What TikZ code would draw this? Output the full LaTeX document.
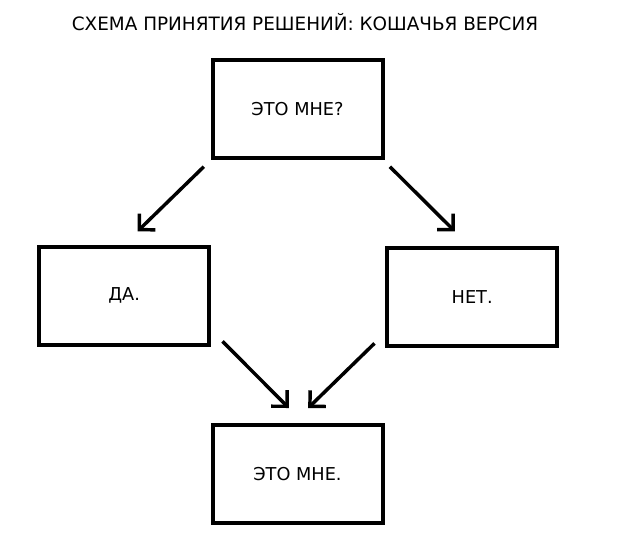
\documentclass[tikz,border=0pt]{standalone}
\usepackage{fontspec}
\setmainfont{DejaVu Sans}
\usetikzlibrary{arrows.meta}
\tikzstyle{box} = [rectangle, 
minimum width=127.5pt, 
minimum height=73.5pt, 
text centered, 
line width=3pt, 
draw=black, 
fill=white, 
font=\fontsize{13.3}{15}\selectfont]
\tikzstyle{heading} = [font=\fontsize{13.8}{16}\selectfont]
\tikzstyle{arrow} = [line width=2.6pt,-{Straight Barb[length=8.5pt,width=17pt]}]

\begin{document}
\begin{tikzpicture}[x=0.75pt, y=-0.75pt, node distance=140pt]
\useasboundingbox (0,0) rectangle (620,546);

\node (title) [heading] at (305,22) {СХЕМА ПРИНЯТИЯ РЕШЕНИЙ: КОШАЧЬЯ ВЕРСИЯ};
\node (me) [box] at (297.5,109) {ЭТО МНЕ?};
\node (yes) [box, below of=me, xshift=-130pt] {ДА.};
\node (no) [box, below of=me, xshift=131pt, yshift=-1pt] {НЕТ.};
\node (mine) [box, below of=me, node distance=274pt] {ЭТО МНЕ.};
\draw [arrow] ([xshift=-5pt,yshift=-5pt]me.south west) -- ([xshift=10pt,yshift=10pt]yes.north);
\draw [arrow] ([xshift=4pt,yshift=-5pt]me.south east) -- ([xshift=-13pt,yshift=11pt]no.north);
\draw [arrow] ([xshift=8.5pt,yshift=4pt]yes.south east) -- ([xshift=-6.5pt,yshift=11.5pt]mine.north);
\draw [arrow] ([xshift=-8pt,yshift=3.5pt]no.south west) -- ([xshift=8pt,yshift=11.5pt]mine.north);

\end{tikzpicture}
\end{document}
